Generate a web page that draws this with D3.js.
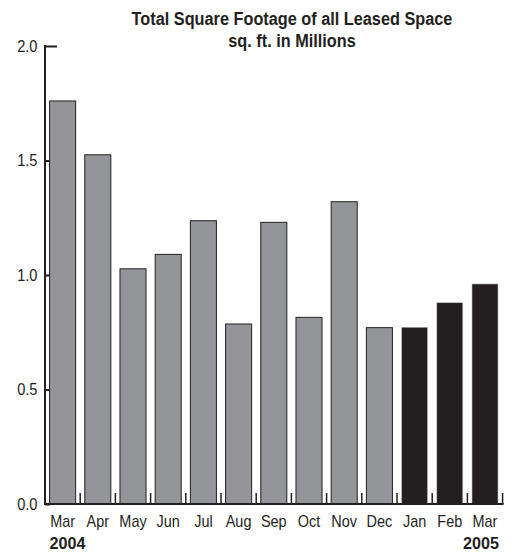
<!DOCTYPE html>
<html>
<head>
<meta charset="utf-8">
<script src="https://cdn.jsdelivr.net/npm/d3@7"></script>
<style>
  body { margin: 0; background: #fff; }
  text { font-family: "Liberation Sans Narrow", "Liberation Sans", Arial, sans-serif; fill: #231f20; }
</style>
</head>
<body>
<div id="chart"></div>
<script>
// data
var months = ['Mar', 'Apr', 'May', 'Jun', 'Jul', 'Aug', 'Sep', 'Oct', 'Nov', 'Dec', 'Jan', 'Feb', 'Mar'];
var footage = [1.76, 1.525, 1.027, 1.09, 1.237, 0.786, 1.23, 0.815, 1.32, 0.77, 0.772, 0.879, 0.961];
var year2005 = [false, false, false, false, false, false, false, false, false, false, true, true, true];
var yTicks = [0, 0.5, 1.0, 1.5, 2.0];
var titleLines = ['Total Square Footage of all Leased Space', 'sq. ft. in Millions'];
var yearLabels = ['2004', '2005'];

var chart_width = 514;
var chart_height = 552;

// squeeze text horizontally to mimic the condensed face of the original
function condense(sel, factor) {
    sel.each(function() {
        var w = this.getComputedTextLength();
        d3.select(this)
            .attr('textLength', w * factor)
            .attr('lengthAdjust', 'spacingAndGlyphs');
    });
}

var svg = d3.select('#chart')
    .append('svg')
    .attr('width', chart_width)
    .attr('height', chart_height);

var x = d3.scaleBand()
    .domain(d3.range(months.length))
    .range([45, 502.6])
    .paddingInner(0.26)
    .paddingOuter(0.13);

var y = d3.scaleLinear()
    .domain([0, 2])
    .range([504, 46]);

// bars
svg.selectAll('rect.bar')
    .data(footage)
    .enter()
    .append('rect')
    .attr('class', 'bar')
    .attr('x', function(d, i) { return x(i); })
    .attr('y', function(d) { return y(d); })
    .attr('width', x.bandwidth())
    .attr('height', function(d) { return y(0) - y(d); })
    .attr('fill', function(d, i) { return year2005[i] ? '#231f20' : '#939598'; })
    .attr('stroke', function(d, i) { return year2005[i] ? '#c8c8c8' : '#231f20'; })
    .attr('stroke-width', function(d, i) { return year2005[i] ? 0.6 : 1; });

// y axis
var yAxis = d3.axisLeft(y)
    .tickValues(yTicks)
    .tickFormat(d3.format('.1f'))
    .tickSize(-5)
    .tickPadding(7.5);

var gy = svg.append('g')
    .attr('transform', 'translate(45,0)')
    .call(yAxis);
gy.select('.domain').remove();
gy.selectAll('.tick line').attr('stroke', '#231f20').attr('stroke-width', 2);
gy.selectAll('.tick text')
    .style('font-size', '17px')
    .attr('fill', '#231f20')
    .call(condense, 0.86);
// longer cap tick at the top
gy.selectAll('.tick line')
    .filter(function(d) { return d === 2; })
    .attr('x2', 12);

svg.append('line')
    .attr('x1', 45).attr('x2', 45)
    .attr('y1', y(2) - 1).attr('y2', y(0) + 1)
    .attr('stroke', '#231f20')
    .attr('stroke-width', 2);

// x axis baseline with ticks at band boundaries
var x0 = x.range()[0];
var bounds = d3.range(1, months.length + 1).map(function(i) { return x0 + i * x.step(); });

svg.append('line')
    .attr('x1', 44).attr('x2', bounds[bounds.length - 1] + 1)
    .attr('y1', y(0)).attr('y2', y(0))
    .attr('stroke', '#231f20')
    .attr('stroke-width', 2);

svg.selectAll('line.xtick')
    .data(bounds)
    .enter()
    .append('line')
    .attr('class', 'xtick')
    .attr('x1', function(d) { return d; })
    .attr('x2', function(d) { return d; })
    .attr('y1', y(0) - 11)
    .attr('y2', y(0))
    .attr('stroke', '#231f20')
    .attr('stroke-width', 1.5);

// month labels
svg.selectAll('text.month')
    .data(months)
    .enter()
    .append('text')
    .attr('class', 'month')
    .attr('x', function(d, i) { return x(i) + x.bandwidth() / 2; })
    .attr('y', 526.5)
    .attr('text-anchor', 'middle')
    .style('font-size', '17px')
    .text(function(d) { return d; })
    .call(condense, 0.85);

// year labels
svg.append('text')
    .attr('x', x(0))
    .attr('y', 549)
    .style('font-size', '17px')
    .style('font-weight', 'bold')
    .text(yearLabels[0])
    .call(condense, 0.95);

svg.append('text')
    .attr('x', x(months.length - 1) + x.bandwidth() + 1)
    .attr('y', 549)
    .attr('text-anchor', 'end')
    .style('font-size', '17px')
    .style('font-weight', 'bold')
    .text(yearLabels[1])
    .call(condense, 0.95);

// title
svg.selectAll('text.title')
    .data(titleLines)
    .enter()
    .append('text')
    .attr('class', 'title')
    .attr('x', 292)
    .attr('y', function(d, i) { return 24.5 + i * 22; })
    .attr('text-anchor', 'middle')
    .style('font-size', '17.5px')
    .style('font-weight', 'bold')
    .text(function(d) { return d; })
    .call(condense, 0.93);
</script>
</body>
</html>
